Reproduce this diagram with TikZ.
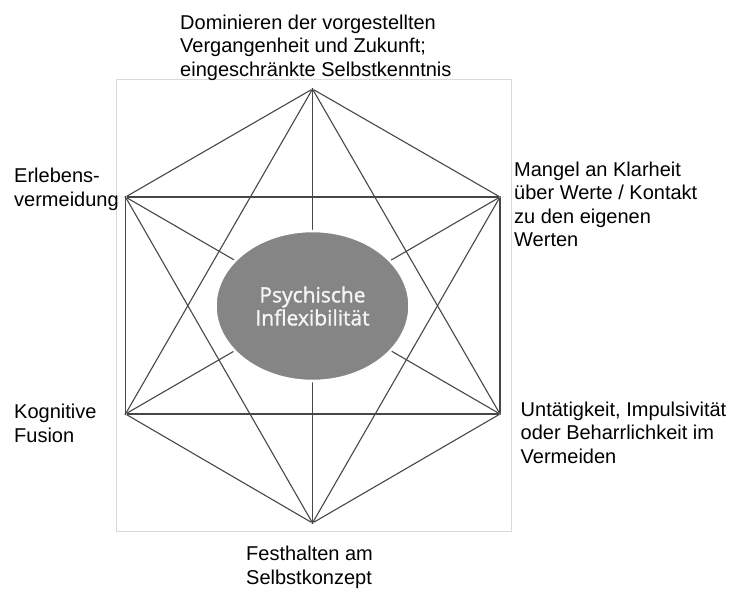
\documentclass[tikz,border=0pt]{standalone}
\usepackage{fontspec}
\setmainfont{Liberation Sans}
\newfontfamily\corefont[FakeBold=1.4]{Open Sans}
\usetikzlibrary{shapes.geometric}

\begin{document}
\begin{tikzpicture}
	[x=1pt,y=-1pt,
	 vx/.style={circle,fill=black!75,inner sep=0pt,minimum size=2.4pt},
	 ln/.style={draw=black!72,line width=1.1pt},
	 lbl/.style={font=\fontsize{20}{23.5}\selectfont,align=left,anchor=base west,inner sep=0pt},
	 core/.style={ellipse,fill=black!48,draw=white,line width=2.5pt,minimum width=194pt,minimum height=150pt,
	   inner sep=0pt,text=black!4,align=center,font=\corefont\fontsize{21}{24}\selectfont}]

	\useasboundingbox (0,0) rectangle (744,589);

	% frame
	\draw[black!15,line width=0.8pt] (116,79) rectangle (511.5,531);

	\node[vx] (top) at (312.5,89) {};
	\node[vx] (ul) at (125.5,197) {};
	\node[vx] (ur) at (500,197) {};
	\node[vx] (ll) at (125.5,414) {};
	\node[vx] (lr) at (500,414) {};
	\node[vx] (bot) at (312.5,523) {};

	\draw[ln] (top) edge (ul) edge (ur) edge (ll) edge (lr) edge (bot);
	\draw[ln] (ul) edge (ur) edge (ll) edge (lr) edge (bot);
	\draw[ln] (ur) edge (ll) edge (lr) edge (bot);
	\draw[ln] (ll) edge (lr) edge (bot);
	\draw[ln] (lr) edge (bot);

	\node[core] (psy) at (312.5,306) {Psychische\\[-1pt]Inflexibilität};

	% labels (base = last line)
	\node[lbl] (ltop) at (180,76) {Dominieren der vorgestellten\\Vergangenheit und Zukunft;\\eingeschränkte Selbstkenntnis};
	\node[lbl] (lul) at (14,206) {Erlebens-\\vermeidung};
	\node[lbl] (lur) at (514,246.5) {Mangel an Klarheit\\über Werte / Kontakt\\zu den eigenen\\Werten};
	\node[lbl] (lll) at (14,442) {Kognitive\\Fusion};
	\node[lbl] (llr) at (520.5,463) {Untätigkeit, Impulsivität\\oder Beharrlichkeit im\\Vermeiden};
	\node[lbl] (lbot) at (246,584) {Festhalten am\\Selbstkonzept};

\end{tikzpicture}
\end{document}
